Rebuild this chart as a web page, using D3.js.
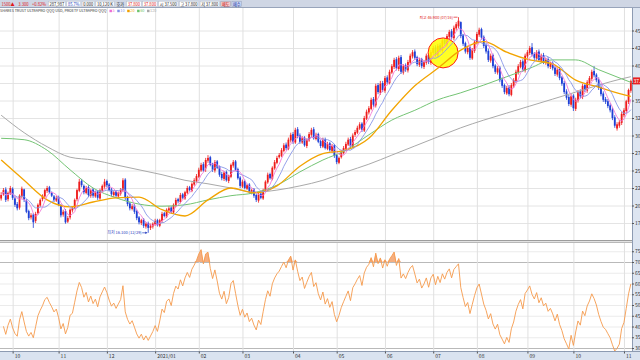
<!DOCTYPE html>
<html><head><meta charset="utf-8">
<script src="https://cdn.jsdelivr.net/npm/d3@7"></script>
<style>html,body{margin:0;padding:0;background:#fff;overflow:hidden}svg{display:block}</style>
</head><body><svg id="c" width="640" height="360"></svg>
<script>
// ---------- DATA ----------
const closes = [21.5,22.2,20.8,21.8,22.5, 21.1,20.1,19.6,21.4,22.4, 20.8,19.1,18.2,18.6,17.6, 18.8,20.1,20.8,21.4,22.2, 22.5,21.9,21.4,20.8,21.1, 20.1,18.6,19.1,17.6,18.2, 19.4,19.6,20.8,22.2,23.4, 22.9,21.9,22.5,21.5,22.2, 21.4,21.9,21.1,22.2,22.8, 23.4,22.9,22.2,21.6,21.9, 21.4,21.8,22.2,23.6,21.1, 20.2,19.6,19.9,19.1,18.2, 17.6,17.9,17.1,17.4,16.8, 17.1,17.4,17.8,17.2,17.9, 18.8,18.5,19.4,19.6,19.1, 20.1,20.8,20.6,21.5,21.1, 21.9,22.5,22.2,23.1,23.6, 24.2,25.1,25.8,25.0,26.5, 26.8,25.8,25.1,26.2,25.4, 24.4,23.9,24.7,23.6,24.2, 25.8,26.2,25.1,23.9,22.8, 23.4,22.5,22.9,21.9,22.2, 21.4,20.8,21.6,21.1,22.2, 23.4,24.4,23.9,25.4,26.2, 26.8,27.2,27.9,28.6,28.2, 29.4,30.1,29.1,30.8,29.9, 29.1,29.6,28.6,29.4,30.2, 30.8,29.6,30.1,29.1,28.5, 29.4,28.2,28.8,27.9,28.5, 27.1,26.2,26.8,27.6,28.2, 28.8,29.4,28.5,30.0,30.5, 31.1,31.6,30.8,32.5,33.4, 33.9,35.1,34.4,37.1,36.2, 37.4,36.5,38.2,37.6,39.1, 39.9,40.8,39.6,41.1,39.1, 39.9,39.4,40.5,41.4,41.9, 41.1,40.2,40.8,39.9,40.5, 41.4,40.5,41.9,42.5,41.5, 42.8,42.2,43.6,43.1,44.2, 44.8,44.0,45.4,45.9,46.4, 44.2,43.1,42.0,42.5,41.1, 42.2,43.4,44.5,45.1,44.0, 42.8,42.0,40.8,41.4,39.9, 39.1,39.6,37.9,37.1,36.2, 36.8,35.9,37.2,37.9,39.1, 39.9,40.5,39.4,41.4,41.9, 42.5,41.6,41.1,41.9,40.8, 41.4,40.5,40.8,39.9,40.2, 39.6,38.8,39.4,38.2,37.4, 36.2,35.4,34.5,35.6,33.9, 35.1,36.2,35.6,37.1,36.5, 37.6,38.2,39.1,38.6,37.9, 36.8,35.9,35.1,34.8,34.2, 33.6,32.5,31.4,31.6,31.9, 33.1,33.6,34.9,36.5,37.8];
const opens = [21.0,21.6,22.3,20.9,21.7, 22.4,21.0,20.2,19.7,21.3, 22.3,20.7,19.2,18.3,18.7, 17.8,18.9,20.0,20.9,21.3, 22.1,22.6,21.8,21.3,20.7, 21.2,20.0,18.7,19.2,17.7, 18.3,19.3,19.7,20.9,22.1, 23.5,22.8,21.8,22.6,21.4, 22.3,21.3,22.0,21.0,22.1, 22.7,23.5,23.0,22.3,21.5, 22.0,21.3,21.7,22.1,23.7, 21.2,20.3,19.5,20.0,19.2, 18.3,17.5,18.0,17.0,17.5, 16.8,17.0,17.3,17.9,17.1, 17.8,18.9,18.4,19.3,19.7, 19.0,20.0,20.9,20.5,21.6, 21.0,21.8,22.6,22.1,23.0, 23.5,24.1,25.0,25.9,25.3, 26.4,26.9,25.9,25.0,26.3, 25.5,24.5,23.8,24.8,23.5, 24.1,25.7,26.3,25.2,24.0, 22.7,23.5,22.4,23.0,21.8, 22.3,21.5,20.7,21.7,21.0, 22.1,23.3,24.5,23.8,25.3, 26.1,26.9,27.1,27.8,28.7, 28.1,29.3,30.2,29.0,30.9, 30.0,29.0,29.7,28.5,29.3, 30.1,30.9,29.5,30.2,29.2, 28.4,29.5,28.1,28.9,27.8, 28.6,27.2,26.1,26.9,27.5, 28.1,28.7,29.5,28.4,30.1, 30.4,31.0,31.7,30.7,32.4, 33.3,33.8,35.2,34.3,37.2, 36.1,37.5,36.4,38.3,37.5, 39.0,39.8,40.9,39.5,41.2, 39.0,40.0,39.3,40.4,41.3, 42.0,41.2,40.1,40.9,39.8, 40.4,41.5,40.4,41.8,42.6, 41.4,42.9,42.1,43.7,43.0, 44.1,44.9,43.9,45.3,45.6, 46.2,44.3,43.2,41.9,42.6, 41.0,42.1,43.3,44.4,45.2, 44.1,42.9,42.1,40.7,41.5, 40.0,39.0,39.7,38.0,37.2, 36.0,36.9,35.8,37.1,37.8, 39.0,39.8,40.6,39.3,41.3, 41.8,42.6,41.7,41.0,42.0, 40.7,41.5,40.4,40.9,39.8, 40.3,39.7,38.7,39.5,38.3, 37.5,36.3,35.5,34.4,35.7, 33.8,35.0,36.3,35.5,37.2, 36.4,37.5,38.1,39.2,38.7, 38.0,36.9,36.0,35.2,34.9, 34.3,33.7,32.6,31.0,31.4, 31.8,32.9,33.5,34.8,36.4];
const highs = [21.9,22.5,22.6,22.0,22.8, 22.6,21.3,20.5,21.6,22.7, 22.4,20.9,19.4,18.9,18.9, 19.1,20.3,21.0,21.6,22.4, 22.8,22.8,22.0,21.5,21.4, 21.4,20.2,19.4,19.5,18.5, 19.6,19.9,21.0,22.4,23.8, 23.8,23.0,22.8,22.9,22.4, 22.5,22.1,22.2,22.4,23.0, 23.8,23.7,23.2,22.5,22.1, 22.2,22.0,22.5,23.9,23.9, 21.4,20.5,20.2,20.2,19.4, 18.5,18.1,18.2,17.6,17.7, 17.4,17.6,18.1,18.1,18.1, 19.1,19.1,19.6,19.9,19.9, 20.3,21.1,21.1,21.8,21.8, 22.1,22.8,22.8,23.3,23.9, 24.5,25.4,26.1,26.2,26.8, 27.2,27.1,26.1,26.5,26.5, 25.7,24.8,24.9,25.0,24.4, 26.0,26.5,26.5,25.4,24.2, 23.7,23.7,23.1,23.2,22.4, 22.5,21.7,21.8,21.9,22.4, 23.6,24.7,24.7,25.6,26.5, 27.1,27.5,28.2,28.9,29.0, 29.7,30.4,30.5,31.1,31.2, 30.3,29.9,29.9,29.6,30.5, 31.1,31.2,30.4,30.4,29.4, 29.7,29.7,29.1,29.1,28.8, 28.8,27.4,27.0,27.9,28.5, 29.1,29.7,29.8,30.3,30.8, 31.4,31.9,31.9,32.8,33.7, 34.2,35.4,35.5,37.4,37.5, 37.8,37.8,38.5,38.6,39.4, 40.2,41.1,41.2,41.4,41.5, 40.2,40.3,40.8,41.7,42.2, 42.3,41.4,41.1,41.1,40.8, 41.7,41.8,42.2,42.8,42.9, 43.1,43.2,43.9,43.9,44.5, 45.1,45.2,45.7,46.2,46.9, 46.3,44.5,43.4,42.8,42.8, 42.5,43.6,44.8,45.4,45.4, 44.3,43.2,42.4,41.7,41.7, 40.2,39.9,39.9,38.3,37.4, 37.1,37.2,37.5,38.2,39.4, 40.2,40.8,40.9,41.7,42.2, 42.8,43.2,41.9,42.2,42.3, 41.7,41.8,41.1,41.2,40.5, 40.6,39.9,39.7,39.8,38.5, 37.8,36.6,35.8,35.9,35.9, 35.4,36.5,36.6,37.4,37.5, 37.9,38.5,39.4,39.9,38.9, 38.3,37.2,36.3,35.5,35.2, 34.6,34.0,32.9,31.9,32.2, 33.4,33.9,35.1,36.7,38.0];
const lows = [20.7,21.4,20.5,20.6,21.5, 20.8,19.8,19.3,19.4,21.0, 20.5,18.9,17.9,18.0,16.8, 17.5,18.7,19.8,20.6,21.1, 21.8,21.7,21.2,20.5,20.5, 19.9,18.3,18.4,17.4,17.5, 18.0,19.0,19.5,20.6,21.9, 22.6,21.6,21.6,21.2,21.1, 21.1,21.1,20.8,20.8,21.9, 22.4,22.6,22.0,21.3,21.2, 21.1,21.1,21.4,21.9,20.8, 19.9,19.3,19.3,18.8,17.9, 17.3,17.2,16.8,16.7,16.1, 16.5,16.7,17.1,17.0,16.9, 17.5,18.3,18.2,19.1,18.8, 18.8,19.8,20.3,20.3,20.9, 20.8,21.6,22.0,21.9,22.8, 23.3,23.9,24.8,24.8,24.8, 26.1,25.6,24.8,24.7,25.2, 24.1,23.6,23.5,23.4,23.2, 23.9,25.4,24.9,23.7,22.5, 22.5,22.3,22.2,21.7,21.6, 21.1,20.5,20.4,20.9,20.8, 21.9,23.1,23.7,23.6,25.1, 25.9,26.7,26.9,27.6,27.9, 27.9,29.0,28.8,28.8,29.6, 28.8,28.8,28.4,28.2,29.1, 29.8,29.4,29.3,28.9,28.2, 28.2,28.0,27.9,27.7,27.5, 26.8,25.9,25.9,26.7,27.3, 27.9,28.5,28.2,28.2,29.8, 30.2,30.8,30.5,30.5,32.2, 33.0,33.6,34.1,34.0,35.9, 35.8,36.2,36.1,37.3,37.3, 38.8,39.5,39.3,39.2,38.8, 38.7,39.1,39.0,40.1,41.0, 40.8,39.9,39.8,39.6,39.5, 40.1,40.2,40.1,41.5,41.2, 41.1,41.9,41.8,42.8,42.7, 43.8,43.7,43.6,45.0,45.3, 43.9,42.8,41.7,41.6,40.8, 40.8,41.8,43.0,44.1,43.7, 42.5,41.7,40.5,40.4,39.6, 38.8,38.7,37.6,36.8,35.9, 35.8,35.6,35.6,36.8,37.5, 38.7,39.6,39.1,39.0,41.0, 41.5,41.3,40.8,40.7,40.5, 40.4,40.2,40.1,39.6,39.5, 39.3,38.5,38.4,37.9,37.1, 35.9,35.1,34.2,34.1,33.5, 33.5,34.7,35.3,35.2,36.2, 36.1,37.2,37.8,38.3,37.6, 36.5,35.6,34.8,34.5,33.9, 33.3,32.2,31.1,30.7,31.1, 31.5,32.6,33.2,34.5,36.1];

const maIdx = [0,10,20,30,40,50,60,70,80,90,100,110,120,130,140,150,160,170,180,190,200,210,220,230,240,250,260,270,274];
const ma20  = [26.5,23.6,20.8,19.8,20.5,21.1,21.2,19.4,18.5,20.8,22.5,21.8,22.8,25.6,27.4,27.9,29.6,33.6,37.1,39.6,42.2,43.4,41.9,40.8,40.2,37.9,36.9,35.9,35.6];
const ma60  = [29.6,29.4,27.9,25.1,22.5,21.1,20.2,19.9,20.1,20.8,21.4,21.8,22.9,24.8,26.5,27.9,30.1,32.2,33.6,35.1,36.1,37.2,38.4,39.6,40.8,40.8,39.4,38.1,37.6];
const ma120 = [32.9,30.4,28.4,26.9,26.5,25.8,25.1,24.4,23.6,23.1,22.5,21.9,22.2,22.8,23.6,24.8,25.9,27.2,28.5,29.8,31.1,32.2,33.2,34.2,35.2,36.2,37.2,38.1,38.4];

const monthIdx    = [5,25,46,67,86,105,127,146,167,188,207,229,249,271];
const monthLabels = ["10","11","12","2021/01","02","03","04","05","06","07","08","09","10","11"];
const priceTicks  = [17.5,20,22.5,25,27.5,30,32.5,35,37.5,40,42.5,45];
const rsiTicks    = [30,35,40,45,50,55,60,65,70,75];

const hiNote = {idx:199, val:46.9, text:"최고 46.900 (07/16)"};
const loNote = {idx:64,  val:16.1, text:"최저 16.100 (12/29)"};
const circleNote = {idx:192.3, val:41.8};
const lastPrice = 37.8;

const toolbar = [
 {t:"1500▲",c:"#e01818"},{t:"3.300",c:"#e01818"},{t:"+0.82%",c:"#e01818"},
 {t:"287,987",c:"#222",box:true},{t:"85.7%",c:"#1f3fc0",box:true},{t:"0.000",c:"#222",box:true},
 {t:"10,120 K",c:"#222",box:true},{t:"호가",c:"#222"},{t:"37.800",c:"#e01818",box:true},
 {t:"37.800",c:"#e01818",box:true},{t:"시 37.500",c:"#222",box:true},{t:"고 37.800",c:"#222",box:true},
 {t:"저 37.800",c:"#222",box:true},{t:"매도",c:"#c00000",btn:"#f3c9c9"},{t:"매수",c:"#10309a",btn:"#c9d4f3"}];
const legendTitle = "SHARES TRUST ULTRAPRO QQQ USD, PROETF ULTRAPRO QQQ";
const legendMA = [{t:"5",c:"#ee6fd6"},{t:"10",c:"#8391e6"},{t:"20",c:"#f0a000"},{t:"60",c:"#6cc46c"},{t:"120",c:"#a8a8a8"}];

// ---------- DRAW ----------
const FONT = "'Noto Sans CJK KR','Noto Sans',sans-serif";
const svg = d3.select('#c').style('font-family',FONT);
const N = closes.length, W = 632;
const MT = 8, MB = 240, RT = 243, RB = 351;
const x  = d3.scaleLinear().domain([-0.5, N-0.5]).range([0, W]);
const y  = d3.scaleLinear().domain([17.5, 45]).range([223, 30.5]);
const yr = d3.scaleLinear().domain([30, 70]).range([348, 262]);

svg.append('rect').attr('width',640).attr('height',360).attr('fill','#fff');
const defs = svg.append('defs');
defs.append('clipPath').attr('id','cm').append('rect').attr('x',0).attr('y',MT).attr('width',W).attr('height',MB-MT);
defs.append('clipPath').attr('id','cr').append('rect').attr('x',0).attr('y',RT).attr('width',W).attr('height',RB-RT);

// grids
const gGrid = svg.append('g');
gGrid.append('g').call(d3.axisRight(y).tickValues(priceTicks).tickSize(W).tickFormat(''))
  .call(g=>g.select('.domain').remove()).selectAll('line').attr('stroke','#e4e4e4');
gGrid.append('g').call(d3.axisRight(yr).tickValues(rsiTicks).tickSize(W).tickFormat(''))
  .call(g=>g.select('.domain').remove()).selectAll('line')
  .attr('stroke',d=>(d===70||d===30)?'#b9b9b9':'#ebebeb');
gGrid.append('g').attr('transform',`translate(0,${MT})`)
  .call(d3.axisBottom(x).tickValues(monthIdx).tickSize(RB-MT).tickFormat(''))
  .call(g=>g.select('.domain').remove()).selectAll('line').attr('stroke','#e0e0e0');

// panel separators
svg.append('rect').attr('x',0).attr('y',MB).attr('width',W).attr('height',RT-MB).attr('fill','#e2e2e2');
svg.append('line').attr('x1',0).attr('x2',W).attr('y1',MB+0.5).attr('y2',MB+0.5).attr('stroke','#9d9d9d');
svg.append('line').attr('x1',0).attr('x2',W).attr('y1',RT-0.5).attr('y2',RT-0.5).attr('stroke','#b8b8b8');

// candles
const main = svg.append('g').attr('clip-path','url(#cm)');
const idx = d3.range(N);
const up = i => closes[i] >= opens[i];
const col = i => up(i) ? '#ee1c1c' : '#1d3fd6';
main.append('g').selectAll('line').data(idx).join('line')
  .attr('x1',i=>x(i)).attr('x2',i=>x(i)).attr('y1',i=>y(highs[i])).attr('y2',i=>y(lows[i]))
  .attr('stroke',col).attr('stroke-width',0.8);
main.append('g').selectAll('rect').data(idx).join('rect')
  .attr('x',i=>x(i)-0.9).attr('width',1.8)
  .attr('y',i=>y(Math.max(opens[i],closes[i])))
  .attr('height',i=>Math.max(0.8, Math.abs(y(opens[i])-y(closes[i]))))
  .attr('fill',col);

// highlight circle
main.append('circle').attr('cx',x(circleNote.idx)).attr('cy',y(circleNote.val)).attr('r',15)
  .attr('fill','#ffff00').attr('fill-opacity',0.86).attr('stroke','#ff1a1a').attr('stroke-width',1);

// moving averages
function sma(n){ return idx.map(i=>{ const s=closes.slice(Math.max(0,i-n+1),i+1); return d3.mean(s); }); }
const ma5 = sma(5), ma10 = sma(10);
const lineI = d3.line().x((d,i)=>x(i)).y(d=>y(d));
const lineS = d3.line().curve(d3.curveMonotoneX).x((d,k)=>x(maIdx[k])).y(d=>y(d));
main.append('path').attr('d',lineS(ma120)).attr('fill','none').attr('stroke','#a9a9a9').attr('stroke-width',1);
main.append('path').attr('d',lineS(ma60)).attr('fill','none').attr('stroke','#74c474').attr('stroke-width',1);
main.append('path').attr('d',lineS(ma20)).attr('fill','none').attr('stroke','#f2a400').attr('stroke-width',1.3);
main.append('path').attr('d',lineI(ma10)).attr('fill','none').attr('stroke','#8896e8').attr('stroke-width',0.9);
main.append('path').attr('d',lineI(ma5)).attr('fill','none').attr('stroke','#f27ad8').attr('stroke-width',0.9);

// annotations
const hx = x(hiNote.idx), hy = y(hiNote.val);
main.append('line').attr('x1',hx-5).attr('x2',hx-1).attr('y1',hy).attr('y2',hy).attr('stroke','#e02020').attr('stroke-width',0.7);
main.append('text').attr('x',hx-5.5).attr('y',hy+1.5).attr('text-anchor','end').attr('font-size',3.9).attr('fill','#e02020').text(hiNote.text);
const lx = x(loNote.idx), ly = y(loNote.val);
main.append('line').attr('x1',lx-6).attr('x2',lx-1).attr('y1',ly).attr('y2',ly).attr('stroke','#2a40c0').attr('stroke-width',0.7);
main.append('path').attr('d',`M${lx-1},${ly}l-2,-1.2v2.4z`).attr('fill','#2a40c0');
main.append('text').attr('x',lx-6.5).attr('y',ly+1.5).attr('text-anchor','end').attr('font-size',4).attr('fill','#2a40c0').text(loNote.text);

// RSI
function rsi(cl,n){
  const ch = d3.range(1,cl.length).map(i=>cl[i]-cl[i-1]);
  let ag = d3.mean(ch.slice(0,n).map(d=>Math.max(d,0)));
  let al = d3.mean(ch.slice(0,n).map(d=>Math.max(-d,0)));
  const out=[null];
  ch.forEach(d=>{ ag=(ag*(n-1)+Math.max(d,0))/n; al=(al*(n-1)+Math.max(-d,0))/n; out.push(al===0?100:100-100/(1+ag/al)); });
  return out;
}
const rs = rsi(closes,14);
const rg = svg.append('g').attr('clip-path','url(#cr)');
const rIdx = idx.filter(i=>rs[i]!==null);
rg.append('path').datum(rIdx)
  .attr('d',d3.area().x(i=>x(i)).y0(yr(70)).y1(i=>yr(Math.max(70,rs[i]))))
  .attr('fill','#f3a06a').attr('fill-opacity',0.85);
rg.append('path').datum(rIdx)
  .attr('d',d3.line().x(i=>x(i)).y(i=>yr(rs[i])))
  .attr('fill','none').attr('stroke','#f59a4c').attr('stroke-width',0.9);

// right axis strip
svg.append('rect').attr('x',W).attr('y',MT).attr('width',640-W).attr('height',RB-MT).attr('fill','#dde5f1');
svg.append('line').attr('x1',W+0.5).attr('x2',W+0.5).attr('y1',MT).attr('y2',360).attr('stroke','#8d9bb2');
const axStyle = g=>{ g.select('.domain').remove(); g.selectAll('text').attr('font-size',5).attr('fill','#333').attr('font-family',FONT); g.selectAll('line').attr('stroke','#555'); };
const boxTop = y(lastPrice)-3.5, boxBot = y(lastPrice)+3.5;
svg.append('g').attr('transform',`translate(${W},0)`)
  .call(d3.axisRight(y).tickValues(priceTicks).tickSize(2).tickPadding(1).tickFormat(d3.format('.2f'))).call(axStyle)
  .selectAll('.tick text').filter(d=>{ const p=y(d); return p>boxTop-4 && p<boxBot+4; }).remove();
svg.append('g').attr('transform',`translate(${W},0)`)
  .call(d3.axisRight(yr).tickValues(rsiTicks).tickSize(2).tickPadding(1).tickFormat(d3.format('.2f'))).call(axStyle);
// current price box
svg.append('rect').attr('x',W+1).attr('y',boxTop).attr('width',640-W-1).attr('height',7).attr('fill','#e82020');
svg.append('text').attr('x',W+1.5).attr('y',y(lastPrice)+1.8).attr('font-size',5).attr('fill','#fff').text(d3.format('.2f')(lastPrice));

// bottom axis strip
svg.append('rect').attr('x',0).attr('y',RB).attr('width',640).attr('height',360-RB).attr('fill','#dae3f0');
svg.append('line').attr('x1',0).attr('x2',640).attr('y1',RB+0.5).attr('y2',RB+0.5).attr('stroke','#8d9bb2');
svg.append('g').attr('transform',`translate(0,${RB+0.5})`)
  .call(d3.axisBottom(x).tickValues(monthIdx).tickSize(2).tickPadding(1).tickFormat((d,i)=>monthLabels[i]))
  .call(axStyle).selectAll('text').attr('text-anchor','start').attr('dx',1.5);

// toolbar
svg.append('rect').attr('x',0).attr('y',0).attr('width',640).attr('height',MT).attr('fill','#cfd6e4');
svg.append('line').attr('x1',0).attr('x2',640).attr('y1',MT-0.5).attr('y2',MT-0.5).attr('stroke','#98a4ba');
const tb = svg.append('g');
let tx = 0.5;
toolbar.forEach(it=>{
  const g = tb.append('g');
  const t = g.append('text').attr('x',tx+1.2).attr('y',5.6).attr('font-size',4.6).attr('fill',it.c).text(it.t);
  const w = t.node().getComputedTextLength();
  if(it.box||it.btn){
    g.insert('rect','text').attr('x',tx).attr('y',1.2).attr('width',w+2.4).attr('height',5.4)
      .attr('fill',it.btn||'#fff').attr('stroke',it.btn?'#8d9bb2':'#b4bccb').attr('stroke-width',0.5);
  }
  tx += w + 2.4 + 1.6;
});
const tbScale = 243 / tx;
tb.attr('transform',`scale(${tbScale},1)`);

// legend row
const lg = svg.append('g');
const ltt = lg.append('text').attr('x',0).attr('y',12.4).attr('font-size',3.7).attr('fill','#333').text(legendTitle);
let lgx = ltt.node().getComputedTextLength() + 3;
legendMA.forEach(m=>{
  lg.append('rect').attr('x',lgx).attr('y',9.7).attr('width',2.5).attr('height',2.5).attr('fill',m.c);
  const tt = lg.append('text').attr('x',lgx+3.1).attr('y',12.4).attr('font-size',3.8).attr('fill',m.c).text(m.t);
  lgx += 3.1 + tt.node().getComputedTextLength() + 2.6;
});
</script>
</body></html>
